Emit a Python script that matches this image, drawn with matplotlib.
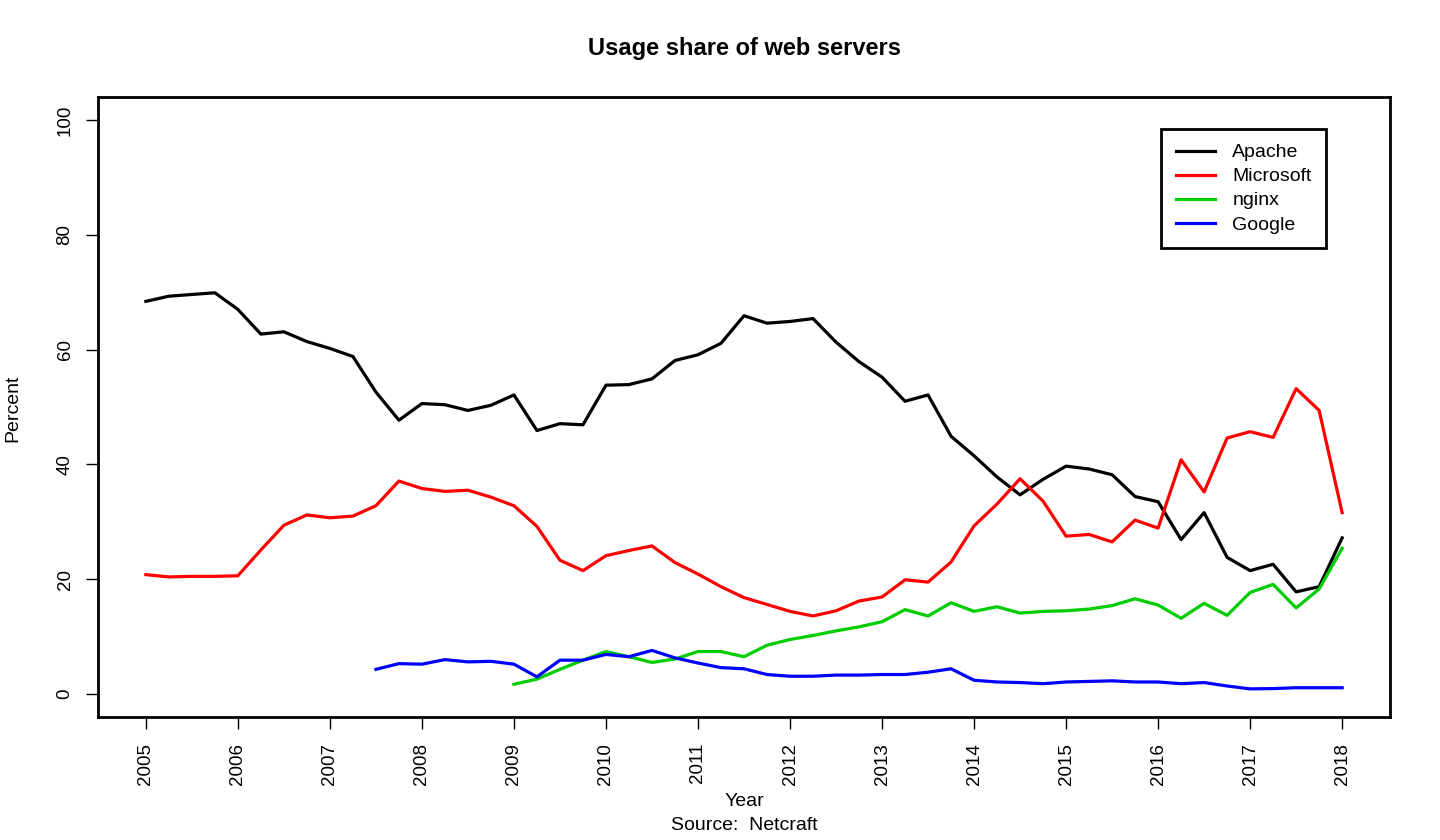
import numpy as np
import matplotlib
matplotlib.use("Agg")
from matplotlib import pyplot as plt

plt.rcParams["font.family"] = ["Liberation Sans", "DejaVu Sans"]

# quarterly samples, 2005.00 .. 2018.00
years = np.arange(2005, 2018.01, 0.25)

apache = [68.4, 69.3, 69.6, 69.9, 67.0, 62.7, 63.1, 61.4, 60.2, 58.8,
          52.6, 47.7, 50.6, 50.4, 49.4, 50.3, 52.1, 45.9, 47.1, 46.9,
          53.8, 53.9, 54.9, 58.1, 59.1, 61.1, 65.9, 64.6, 64.9, 65.4,
          61.3, 57.9, 55.2, 51.0, 52.1, 44.9, 41.5, 37.8, 34.7, 37.4,
          39.7, 39.2, 38.2, 34.4, 33.5, 26.9, 31.6, 23.8, 21.5, 22.6,
          17.8, 18.7, 27.2]
microsoft = [20.8, 20.4, 20.5, 20.5, 20.6, 25.1, 29.4, 31.2, 30.7, 31.0,
             32.8, 37.1, 35.8, 35.3, 35.5, 34.3, 32.8, 29.2, 23.3, 21.5,
             24.1, 25.0, 25.8, 22.9, 20.9, 18.7, 16.8, 15.6, 14.4, 13.6,
             14.5, 16.2, 16.9, 19.9, 19.5, 23.0, 29.3, 33.1, 37.5, 33.6,
             27.5, 27.8, 26.5, 30.3, 28.9, 40.8, 35.2, 44.6, 45.7, 44.7,
             53.2, 49.4, 31.6]
# nginx from 2009.00
nginx_years = years[16:]
nginx = [1.7, 2.6, 4.3, 5.9, 7.4, 6.5, 5.5, 6.1, 7.4, 7.4,
         6.5, 8.5, 9.5, 10.2, 11.0, 11.7, 12.6, 14.7, 13.6, 15.9,
         14.4, 15.2, 14.1, 14.4, 14.5, 14.8, 15.4, 16.6, 15.5, 13.2,
         15.8, 13.7, 17.7, 19.1, 15.0, 18.3, 25.4]
# google from 2007.50
google_years = years[10:]
google = [4.3, 5.3, 5.2, 6.0, 5.6, 5.7, 5.2, 3.0, 5.9, 5.9,
          6.9, 6.5, 7.6, 6.3, 5.4, 4.6, 4.4, 3.4, 3.1, 3.1,
          3.3, 3.3, 3.4, 3.4, 3.8, 4.4, 2.4, 2.1, 2.0, 1.8,
          2.1, 2.2, 2.3, 2.1, 2.1, 1.8, 2.0, 1.4, 0.9, 0.95,
          1.1, 1.1, 1.1]

fig = plt.figure(figsize=(14.4, 8.4), dpi=100)
ax = fig.add_axes([98 / 1440, 1 - 717 / 840, 1292 / 1440, 620 / 840])

lw = 2.3
ax.plot(years, apache, color="black", lw=lw, label="Apache")
ax.plot(years, microsoft, color="#ff0000", lw=lw, label="Microsoft")
ax.plot(nginx_years, nginx, color="#00cd00", lw=lw, label="nginx")
ax.plot(google_years, google, color="#0000ff", lw=lw, label="Google")

ax.set_xlim(2005 - 0.52, 2018 + 0.52)
ax.set_ylim(-4, 104)
ax.set_xticks(range(2005, 2019))
ax.set_xticklabels([str(y) for y in range(2005, 2019)], rotation=90)
ax.set_yticks(range(0, 101, 20))
ax.set_yticklabels([str(v) for v in range(0, 101, 20)], rotation=90, va="center")
ax.tick_params(direction="out", length=8.6, width=1.0, labelsize=13.5, color="black")
ax.tick_params(axis="x", pad=10)
ax.tick_params(axis="y", pad=9)
for s in ax.spines.values():
    s.set_linewidth(2.0)

leg = ax.legend(loc="upper left", bbox_to_anchor=(0.823, 0.948), borderaxespad=0,
                fancybox=False, edgecolor="black", fontsize=14, handlelength=2.0,
                handletextpad=0.9, labelspacing=0.33, borderpad=0.75, framealpha=1)
leg.get_frame().set_linewidth(2.0)

fig.text(744 / 1440, 1 - 48 / 840, "Usage share of web servers", ha="center", va="center",
         fontsize=17, fontweight="bold")
fig.text(744 / 1440, 1 - 802 / 840, "Year", ha="center", va="center", fontsize=14)
fig.text(744 / 1440, 1 - 825 / 840, "Source:  Netcraft", ha="center", va="center", fontsize=14)
fig.text(13 / 1440, 1 - 408 / 840, "Percent", ha="center", va="center", rotation=90, fontsize=14)

fig.savefig("out.png", dpi=100)
